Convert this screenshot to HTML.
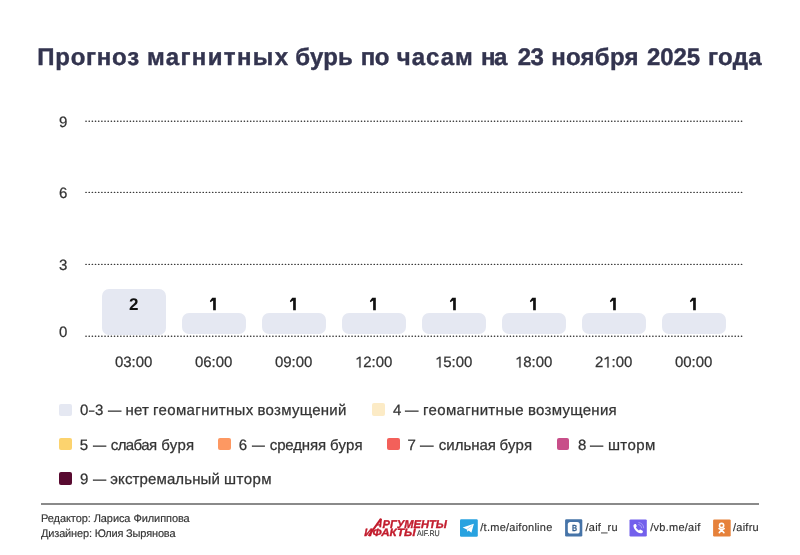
<!DOCTYPE html>
<html lang="ru">
<head>
<meta charset="utf-8">
<title>Прогноз магнитных бурь</title>
<style>
*{margin:0;padding:0;box-sizing:border-box}
html,body{width:800px;height:555px;background:#fff;overflow:hidden}
body{position:relative;font-family:"Liberation Sans",sans-serif;color:#333;text-rendering:geometricPrecision}
.root{position:absolute;left:0;top:0;width:800px;height:555px;will-change:transform}
.a{position:absolute;white-space:nowrap;line-height:1}
.title{font-size:24px;font-weight:700;color:#33344f;-webkit-text-stroke:0.4px #33344f}
.title span{position:absolute;top:0}
.yl{font-size:15px;color:#333;left:59px;-webkit-text-stroke:0.25px #333}
.bar{position:absolute;width:64px;background:#e5e8f2;border-radius:7px}
.bv{position:absolute;width:64px;text-align:center;font-size:17px;font-weight:700;color:#111;line-height:1}
.xl{position:absolute;width:80px;text-align:center;font-size:15px;color:#333;line-height:1;-webkit-text-stroke:0.25px #333}
.one{position:relative;color:transparent;-webkit-text-stroke-color:transparent}
.one svg{position:absolute;left:0;top:0;width:0.556em;height:1.117em;overflow:visible}
.sw{position:absolute;width:12.8px;height:12.5px;border-radius:2px}
.lt{font-size:15px;color:#333;-webkit-text-stroke:0.25px #333}
.ft{font-size:11px;color:#333;-webkit-text-stroke:0.15px #333}
.fl{font-size:11px;color:#333;letter-spacing:0.25px;-webkit-text-stroke:0.15px #333}
.ic{position:absolute;width:17.5px;height:17px;border-radius:1.5px}
</style>
</head>
<body>
<div class="root">
<div class="a title" style="left:0;top:46.1px;width:800px;height:30px"><span style="left:37.2px;letter-spacing:0.767px">Прогноз</span><span style="left:147.0px;letter-spacing:1.362px">магнитных</span><span style="left:295.2px;letter-spacing:0.2px">бурь</span><span style="left:360.8px;letter-spacing:-0.6px">по</span><span style="left:396.8px;letter-spacing:1.0px">часам</span><span style="left:481.0px;letter-spacing:-1.4px">на</span><span style="left:517.8px;letter-spacing:-0.6px">23</span><span style="left:551.2px;letter-spacing:0.28px">ноября</span><span style="left:647.0px;letter-spacing:-0.133px">2025</span><span style="left:708.1px;letter-spacing:0.3px">года</span></div>

<!-- grid -->
<svg class="a" style="left:0;top:0" width="800" height="555">
<g stroke="#3a3a3a" stroke-width="1.4" stroke-linecap="round" stroke-dasharray="0.3 2.8667">
<line x1="85.9" y1="121.2" x2="742" y2="121.2"/>
<line x1="85.9" y1="192.4" x2="742" y2="192.4"/>
<line x1="85.9" y1="264.4" x2="742" y2="264.4"/>
<line x1="85.9" y1="336.2" x2="742" y2="336.2"/>
</g>
</svg>

<div class="a yl" style="top:114.8px">9</div>
<div class="a yl" style="top:185.6px">6</div>
<div class="a yl" style="top:257.6px">3</div>
<div class="a yl" style="top:324.7px">0</div>

<!-- bars -->
<div class="bar" style="left:101.7px;top:289px;height:45.5px"></div>
<div class="bar" style="left:181.7px;top:312.8px;height:21.7px"></div>
<div class="bar" style="left:261.7px;top:312.8px;height:21.7px"></div>
<div class="bar" style="left:341.7px;top:312.8px;height:21.7px"></div>
<div class="bar" style="left:421.7px;top:312.8px;height:21.7px"></div>
<div class="bar" style="left:501.7px;top:312.8px;height:21.7px"></div>
<div class="bar" style="left:581.7px;top:312.8px;height:21.7px"></div>
<div class="bar" style="left:661.7px;top:312.8px;height:21.7px"></div>

<div class="bv" style="left:101.7px;top:295.8px">2</div>
<div class="bv" style="left:181.7px;top:295.8px"><span class="one">1<svg viewBox="0 0 556 1117"><path d="M190 165H402V894H243V316L84 430L50 355Z" fill="#111"/></svg></span></div>
<div class="bv" style="left:261.7px;top:295.8px"><span class="one">1<svg viewBox="0 0 556 1117"><path d="M190 165H402V894H243V316L84 430L50 355Z" fill="#111"/></svg></span></div>
<div class="bv" style="left:341.7px;top:295.8px"><span class="one">1<svg viewBox="0 0 556 1117"><path d="M190 165H402V894H243V316L84 430L50 355Z" fill="#111"/></svg></span></div>
<div class="bv" style="left:421.7px;top:295.8px"><span class="one">1<svg viewBox="0 0 556 1117"><path d="M190 165H402V894H243V316L84 430L50 355Z" fill="#111"/></svg></span></div>
<div class="bv" style="left:501.7px;top:295.8px"><span class="one">1<svg viewBox="0 0 556 1117"><path d="M190 165H402V894H243V316L84 430L50 355Z" fill="#111"/></svg></span></div>
<div class="bv" style="left:581.7px;top:295.8px"><span class="one">1<svg viewBox="0 0 556 1117"><path d="M190 165H402V894H243V316L84 430L50 355Z" fill="#111"/></svg></span></div>
<div class="bv" style="left:661.7px;top:295.8px"><span class="one">1<svg viewBox="0 0 556 1117"><path d="M190 165H402V894H243V316L84 430L50 355Z" fill="#111"/></svg></span></div>

<div class="xl" style="left:93.7px;top:354.8px">03:00</div>
<div class="xl" style="left:173.7px;top:354.8px">06:00</div>
<div class="xl" style="left:253.7px;top:354.8px">09:00</div>
<div class="xl" style="left:333.7px;top:354.8px"><span class="one">1<svg viewBox="0 0 556 1117"><path d="M290 189H372V905H290V285L125 378L95 318Z" fill="#333" stroke="#333" stroke-width="16"/></svg></span>2:00</div>
<div class="xl" style="left:413.7px;top:354.8px"><span class="one">1<svg viewBox="0 0 556 1117"><path d="M290 189H372V905H290V285L125 378L95 318Z" fill="#333" stroke="#333" stroke-width="16"/></svg></span>5:00</div>
<div class="xl" style="left:493.7px;top:354.8px"><span class="one">1<svg viewBox="0 0 556 1117"><path d="M290 189H372V905H290V285L125 378L95 318Z" fill="#333" stroke="#333" stroke-width="16"/></svg></span>8:00</div>
<div class="xl" style="left:573.7px;top:354.8px">2<span class="one">1<svg viewBox="0 0 556 1117"><path d="M290 189H372V905H290V285L125 378L95 318Z" fill="#333" stroke="#333" stroke-width="16"/></svg></span>:00</div>
<div class="xl" style="left:653.7px;top:354.8px">00:00</div>

<!-- legend -->
<div class="sw" style="left:59.1px;top:403.5px;background:#e5e8f2"></div>
<div class="sw" style="left:372px;top:403.4px;background:#fcebc6"></div>

<div class="sw" style="left:59.2px;top:437.9px;background:#fcd36e"></div>
<div class="sw" style="left:218.3px;top:437.9px;background:#fd9862"></div>
<div class="sw" style="left:387.1px;top:437.9px;background:#f3605a"></div>
<div class="sw" style="left:556.7px;top:437.9px;background:#c84e89"></div>

<div class="sw" style="left:59.2px;top:472.2px;background:#580a30"></div>

<div class="a lt" style="left:80.1px;top:403.2px;">0</div>
<div class="a lt" style="left:88.9px;top:403.2px;transform:scaleX(0.64);transform-origin:0 0">–</div>
<div class="a lt" style="left:94.9px;top:403.2px;">3</div>
<div class="a lt" style="left:107.9px;top:403.2px;transform:scaleX(0.887);transform-origin:0 0">—</div>
<div class="a lt" style="left:125.4px;top:403.2px;letter-spacing:0.225px">нет</div>
<div class="a lt" style="left:152.9px;top:403.2px;letter-spacing:0.395px">геомагнитных</div>
<div class="a lt" style="left:257.5px;top:403.2px;letter-spacing:0.278px">возмущений</div>
<div class="a lt" style="left:392.9px;top:403.2px;">4</div>
<div class="a lt" style="left:405.2px;top:403.2px;transform:scaleX(0.893);transform-origin:0 0">—</div>
<div class="a lt" style="left:423.1px;top:403.2px;letter-spacing:0.332px">геомагнитные</div>
<div class="a lt" style="left:528.0px;top:403.2px;letter-spacing:0.289px">возмущения</div>
<div class="a lt" style="left:79.7px;top:437.7px;">5</div>
<div class="a lt" style="left:92.75px;top:437.7px;transform:scaleX(0.877);transform-origin:0 0">—</div>
<div class="a lt" style="left:110.75px;top:437.7px;letter-spacing:-0.600px">слабая</div>
<div class="a lt" style="left:161.25px;top:437.7px;letter-spacing:0.333px">буря</div>
<div class="a lt" style="left:238.75px;top:437.7px;">6</div>
<div class="a lt" style="left:252.1px;top:437.7px;transform:scaleX(0.853);transform-origin:0 0">—</div>
<div class="a lt" style="left:269.75px;top:437.7px;letter-spacing:-0.125px">средняя</div>
<div class="a lt" style="left:330.0px;top:437.7px;letter-spacing:0.250px">буря</div>
<div class="a lt" style="left:407.4px;top:437.7px;">7</div>
<div class="a lt" style="left:420.4px;top:437.7px;transform:scaleX(0.900);transform-origin:0 0">—</div>
<div class="a lt" style="left:438.75px;top:437.7px;letter-spacing:0.000px">сильная</div>
<div class="a lt" style="left:499.5px;top:437.7px;letter-spacing:0.250px">буря</div>
<div class="a lt" style="left:578.1px;top:437.7px;">8</div>
<div class="a lt" style="left:590.1px;top:437.7px;transform:scaleX(0.877);transform-origin:0 0">—</div>
<div class="a lt" style="left:607.9px;top:437.7px;letter-spacing:0.400px">шторм</div>
<div class="a lt" style="left:80.1px;top:471.9px;">9</div>
<div class="a lt" style="left:92.6px;top:471.9px;transform:scaleX(0.877);transform-origin:0 0">—</div>
<div class="a lt" style="left:110.25px;top:471.9px;letter-spacing:0.125px">экстремальный</div>
<div class="a lt" style="left:224.0px;top:471.9px;letter-spacing:0.450px">шторм</div>

<!-- footer -->
<div class="a" style="left:41px;top:503px;width:718px;height:2px;background:#8a8a8a"></div>
<div class="a ft" style="left:41px;top:514px;letter-spacing:-0.08px">Редактор: Лариса Филиппова</div>
<div class="a ft" style="left:41px;top:529.3px;letter-spacing:-0.16px">Дизайнер: Юлия Зырянова</div>

<!-- AIF logo + icons -->
<svg class="a" style="left:0;top:0" width="800" height="555" viewBox="0 0 800 555">
<g fill="#c21c2d" stroke="#c21c2d" stroke-width="0.35" font-family="Liberation Sans" font-weight="700" font-style="italic">
<text x="382.5" y="527.6" font-size="11.2" textLength="64.5" lengthAdjust="spacingAndGlyphs">РГУМЕНТЫ</text>
<text x="364.3" y="536.4" font-size="10.6" textLength="8" lengthAdjust="spacingAndGlyphs">И</text>
<text x="372.6" y="536.4" font-size="10.6" textLength="43" lengthAdjust="spacingAndGlyphs">ФАКТЫ</text>
</g>
<g stroke="#c21c2d" fill="none" stroke-linecap="butt">
<line x1="368.6" y1="536" x2="380.9" y2="518.8" stroke-width="2.1"/>
<line x1="381" y1="518.6" x2="380.2" y2="527.3" stroke-width="1.9"/>
<line x1="376" y1="524.9" x2="381" y2="524.9" stroke-width="1.3"/>
</g>
<text x="417.1" y="535.6" font-family="Liberation Sans" font-size="8.3" textLength="22.6" lengthAdjust="spacingAndGlyphs" fill="#3a3a3a" stroke="#3a3a3a" stroke-width="0.15">AIF.RU</text>

<!-- telegram -->
<g transform="translate(460 519.2)">
<rect width="17.8" height="17.5" rx="1.2" fill="#28a2e0"/>
<path d="M2.6 8.4 L13.9 4.6 L11.4 13.5 L8.7 11.4 L7.4 12.6 L6.9 10.2 Z" fill="#fff"/>
<path d="M6.9 10.2 L12.2 6.4" stroke="#9fd3ef" stroke-width="0.7"/>
</g>
<!-- vk -->
<g transform="translate(565.1 519.2)">
<rect width="17.2" height="17.3" rx="1.2" fill="#4674a8"/>
<rect x="2.7" y="2.8" width="11.9" height="11.5" rx="2.6" fill="#fff"/>
<text x="6.9" y="11.8" font-family="Liberation Sans" font-weight="700" font-size="8.8" textLength="5.1" lengthAdjust="spacingAndGlyphs" fill="#35608f" stroke="#35608f" stroke-width="0.25">B</text>
</g>
<!-- viber -->
<g transform="translate(629.5 519.4)">
<rect width="17.3" height="17.1" rx="1.2" fill="#7360ec"/>
<g fill="none" stroke="#a99ef4" stroke-width="0.95" stroke-linecap="round">
<path d="M9.4 3.2 A5.6 5.6 0 0 1 14.2 8.4"/>
<path d="M9.2 5.1 A3.8 3.8 0 0 1 12.3 8.5"/>
</g>
<path transform="translate(-0.45 -0.5) scale(1.1)" d="M5.6 4.6 C4.5 4.6 3.8 5.6 4 6.6 C4.6 9.6 7.3 12.4 10.4 13.1 C11.4 13.3 12.4 12.6 12.6 11.6 C12.7 11.1 12.4 10.7 12 10.5 L10.6 9.8 C10.2 9.6 9.8 9.7 9.5 10 L9 10.5 C7.8 9.9 6.8 8.9 6.2 7.7 L6.7 7.2 C7 6.9 7.1 6.5 6.9 6.1 L6.3 4.9 C6.2 4.7 5.9 4.6 5.6 4.6 Z" fill="#fff"/>
</g>
<!-- ok -->
<g transform="translate(713.1 519.4)">
<rect width="17.6" height="17.1" rx="1.2" fill="#e6813a"/>
<g fill="none" stroke="#fff" stroke-width="1.6" stroke-linecap="round">
<circle cx="8.5" cy="6.1" r="2.1"/>
<path d="M5.9 9.3 Q8.5 11.2 11.1 9.3"/>
<path d="M8.5 10.6 L6.2 13.2 M8.5 10.6 L10.8 13.2"/>
</g>
</g>
</svg>
<div class="a fl" style="left:480.3px;top:522.8px">/t.me/aifonline</div>
<div class="a fl" style="left:585.5px;top:522.8px">/aif_ru</div>
<div class="a fl" style="left:650.3px;top:522.8px">/vb.me/aif</div>
<div class="a fl" style="left:733px;top:522.8px">/aifru</div>
</div>
</body>
</html>
